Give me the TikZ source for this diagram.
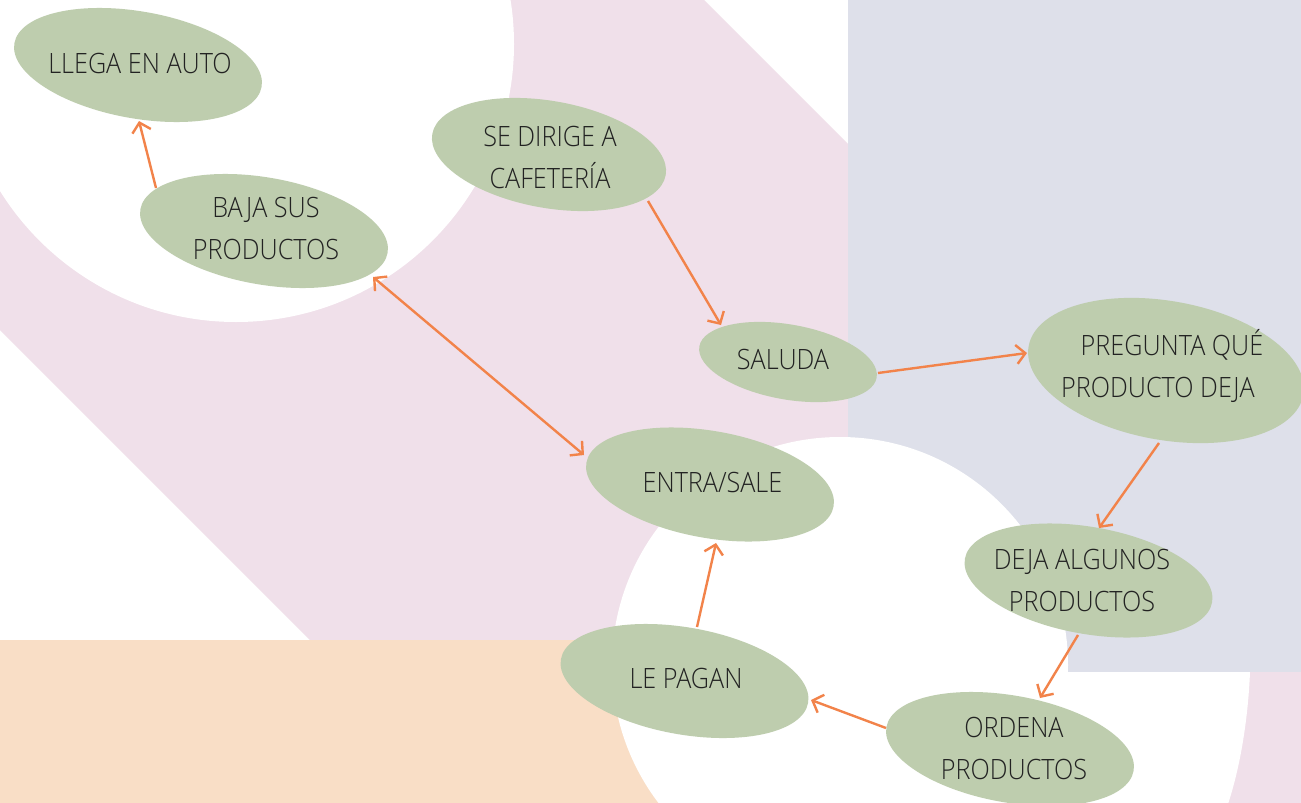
\documentclass[tikz,border=0pt]{standalone}
\usepackage{fontspec}
\setmainfont{Open Sans}[FakeStretch=0.9, UprightFont={* Light}]
\usetikzlibrary{shapes.geometric,arrows.meta}
\definecolor{bgpink}{HTML}{F0E0EA}
\definecolor{bglav}{HTML}{DEE0EA}
\definecolor{bgpeach}{HTML}{F9DEC6}
\definecolor{sage}{HTML}{BECDAE}
\definecolor{arrowor}{HTML}{F2834A}
\definecolor{inkc}{HTML}{222222}
\newcommand{\capline}[1]{\rule{0pt}{20pt}\smash{#1}}
\begin{document}
\begin{tikzpicture}[x=1pt,y=-1pt,
  bubble/.style={ellipse, fill=sage, draw=none, inner sep=0pt, outer sep=0pt, rotate=-10},
  caption/.style={text=inkc, align=center, inner sep=0pt, font=\fontsize{28}{42}\selectfont},
  flow/.style={draw=arrowor, line width=2.4pt, -{Straight Barb[length=9pt,width=19pt]}},
  both/.style={draw=arrowor, line width=2.4pt, {Straight Barb[length=9pt,width=19pt]}-{Straight Barb[length=9pt,width=19pt]}}]
\useasboundingbox (0,0) rectangle (1301,803);
\clip (0,0) rectangle (1301,803);
% background
\fill[white] (0,0) rectangle (1301,803);
\fill[bgpink] (0,0) -- (704,0) -- (1507,803) -- (473,803) -- (0,330) -- cycle;
\fill[bglav] (848,0) rectangle (1301,672);
\fill[bgpeach] (0,640) rectangle (700,803);
\fill[white] (840,665) circle[radius=228];
\fill[white] (1040,672) -- (1250,672) .. controls (1248,720) and (1240,770) .. (1226,810) -- (1000,810) -- cycle;
\fill[white] (236,44) circle[radius=278];
% ellipses
\node[bubble, minimum width=251pt, minimum height=107pt] (llega) at (138,65) {};
\node[bubble, minimum width=251pt, minimum height=107pt] (baja) at (264,231) {};
\node[bubble, minimum width=237pt, minimum height=107pt] (dirige) at (549,154.5) {};
\node[bubble, minimum width=180pt, minimum height=75pt] (saluda) at (788,362) {};
\node[bubble, minimum width=279pt, minimum height=139pt] (pregunta) at (1166,370.5) {};
\node[bubble, minimum width=251pt, minimum height=107pt] (entra) at (710,484.5) {};
\node[bubble, minimum width=251pt, minimum height=107pt] (deja) at (1088.5,580.5) {};
\node[bubble, minimum width=251pt, minimum height=107pt] (pagan) at (684.5,681) {};
\node[bubble, minimum width=251pt, minimum height=107pt] (ordena) at (1010,749) {};
% texts
\node[caption] (llega-t) at (140,63) {\capline{LLEGA EN AUTO}};
\node[caption] (baja-t) at (266,228.5) {\capline{BAJA SUS}\\\capline{PRODUCTOS}};
\node[caption] (dirige-t) at (550,157.5) {\capline{SE DIRIGE A}\\\capline{CAFETERÍA}};
\node[caption] (saluda-t) at (783,359) {\capline{SALUDA}};
\node[caption] (pregunta-t) at (1158,366.5) {\hspace*{28pt}\capline{PREGUNTA QUÉ}\\\capline{PRODUCTO DEJA}};
\node[caption] (entra-t) at (712.5,482) {\capline{ENTRA/SALE}};
\node[caption] (deja-t) at (1082,580) {\capline{DEJA ALGUNOS}\\\capline{PRODUCTOS}};
\node[caption] (pagan-t) at (686,678.5) {\capline{LE PAGAN}};
\node[caption] (ordena-t) at (1014,748) {\capline{ORDENA}\\\capline{PRODUCTOS}};
% connector ends
\coordinate (baja-top) at (156,188);
\coordinate (llega-bot) at (139,121);
\coordinate (dirige-out) at (648,201);
\coordinate (saluda-in) at (721,325);
\coordinate (saluda-out) at (878,373);
\coordinate (pregunta-in) at (1027,353);
\coordinate (pregunta-out) at (1159,443);
\coordinate (deja-in) at (1099,528);
\coordinate (deja-out) at (1078,635);
\coordinate (ordena-in) at (1040,698);
\coordinate (ordena-out) at (886,728);
\coordinate (pagan-in) at (811,700);
\coordinate (pagan-out) at (697,627);
\coordinate (entra-in) at (716,543);
\coordinate (baja-end) at (373,277);
\coordinate (entra-end) at (584,455);
% connectors
\draw[flow] (baja-top) -- (llega-bot);
\draw[flow] (dirige-out) -- (saluda-in);
\draw[flow] (saluda-out) -- (pregunta-in);
\draw[flow] (pregunta-out) -- (deja-in);
\draw[flow] (deja-out) -- (ordena-in);
\draw[flow] (ordena-out) -- (pagan-in);
\draw[flow] (pagan-out) -- (entra-in);
\draw[both] (baja-end) -- (entra-end);
\end{tikzpicture}
\end{document}
